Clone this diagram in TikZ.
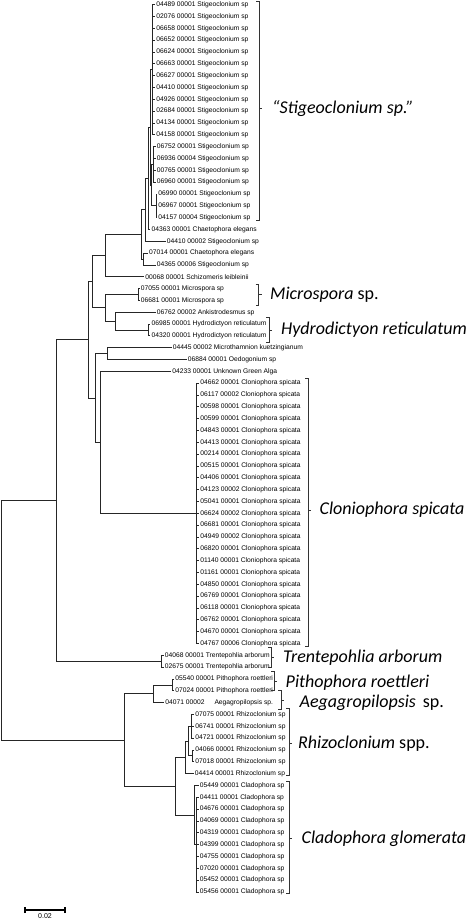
\documentclass[tikz,border=0pt]{standalone}
\usepackage{fontspec}
\setmainfont{Liberation Sans}
\newfontfamily\cladefont{Carlito}
\begin{document}
\begin{tikzpicture}[x=1pt,y=-1pt,
  br/.style={draw=black!85,line width=0.9pt},
  leaf/.style={font=\fontsize{6.7}{8}\selectfont,inner sep=1.2pt,anchor=west},
  brk/.style={draw=black!80,line width=0.7pt},
  clade/.style={font=\cladefont\fontsize{18}{20}\selectfont,inner sep=0pt,anchor=west}]
\useasboundingbox (0,0) rectangle (468,920);
% ---------- leaves ----------
\foreach \i/\x/\t in {
 1/155/{04489 00001 Stigeoclonium sp},
 2/155/{02076 00001 Stigeoclonium sp},
 3/155/{06658 00001 Stigeoclonium sp},
 4/155/{06652 00001 Stigeoclonium sp},
 5/155/{06624 00001 Stigeoclonium sp},
 6/155/{06663 00001 Stigeoclonium sp},
 7/155/{06627 00001 Stigeoclonium sp},
 8/155/{04410 00001 Stigeoclonium sp},
 9/155/{04926 00001 Stigeoclonium sp},
 10/155/{02684 00001 Stigeoclonium sp},
 11/155/{04134 00001 Stigeoclonium sp},
 12/155/{04158 00001 Stigeoclonium sp},
 13/155.5/{06752 00001 Stigeoclonium sp},
 14/155.5/{06936 00004 Stigeoclonium sp},
 15/155.5/{00765 00001 Stigeoclonium sp},
 16/155.5/{06960 00001 Stigeoclonium sp},
 17/157/{06990 00001 Stigeoclonium sp},
 18/157/{06967 00001 Stigeoclonium sp},
 19/157/{04157 00004 Stigeoclonium sp},
 20/150.3/{04363 00001 Chaetophora elegans},
 21/165.5/{04410 00002 Stigeoclonium sp},
 22/147.7/{07014 00001 Chaetophora elegans},
 23/155.5/{04365 00006 Stigeoclonium sp},
 24/144/{00068 00001 Schizomeris leibleinii},
 25/139.5/{07055 00001 Microspora sp},
 26/139.5/{06681 00001 Microspora sp},
 27/155.5/{06762 00002 Ankistrodesmus sp},
 28/150.3/{06985 00001 Hydrodictyon reticulatum},
 29/150.3/{04320 00001 Hydrodictyon reticulatum},
 30/171.5/{04445 00002 Microthamnion kuetzingianum},
 31/186.5/{06884 00001 Oedogonium sp},
 32/171/{04233 00001 Unknown Green Alga},
 33/199/{04662 00001 Cloniophora spicata},
 34/199/{06117 00002 Cloniophora spicata},
 35/199/{00598 00001 Cloniophora spicata},
 36/199/{00599 00001 Cloniophora spicata},
 37/199/{04843 00001 Cloniophora spicata},
 38/199/{04413 00001 Cloniophora spicata},
 39/199/{00214 00001 Cloniophora spicata},
 40/199/{00515 00001 Cloniophora spicata},
 41/199/{04406 00001 Cloniophora spicata},
 42/199/{04123 00002 Cloniophora spicata},
 43/199/{05041 00001 Cloniophora spicata},
 44/199/{06624 00002 Cloniophora spicata},
 45/199/{06681 00001 Cloniophora spicata},
 46/199/{04949 00002 Cloniophora spicata},
 47/199/{06820 00001 Cloniophora spicata},
 48/199/{01140 00001 Cloniophora spicata},
 49/199/{01161 00001 Cloniophora spicata},
 50/199/{04850 00001 Cloniophora spicata},
 51/199/{06769 00001 Cloniophora spicata},
 52/199/{06118 00001 Cloniophora spicata},
 53/199/{06762 00001 Cloniophora spicata},
 54/199/{04670 00001 Cloniophora spicata},
 55/199/{04767 00006 Cloniophora spicata},
 56/163.5/{04068 00001 Trentepohlia arborum},
 57/163.5/{02675 00001 Trentepohlia arborum},
 58/174/{05540 00001 Pithophora roettleri},
 59/174/{07024 00001 Pithophora roettleri},
 60/164/{04071 00002\hspace{10pt}Aegagropilopsis sp.},
 61/194/{07075 00001 Rhizoclonium sp},
 62/194/{06741 00001 Rhizoclonium sp},
 63/194/{04721 00001 Rhizoclonium sp},
 64/194/{04066 00001 Rhizoclonium sp},
 65/194/{07018 00001 Rhizoclonium sp},
 66/193.5/{04414 00001 Rhizoclonium sp},
 67/198.5/{05449 00001 Cladophora sp},
 68/198.5/{04411 00001 Cladophora sp},
 69/198.5/{04676 00001 Cladophora sp},
 70/198.5/{04069 00001 Cladophora sp},
 71/198.5/{04319 00001 Cladophora sp},
 72/198.5/{04399 00001 Cladophora sp},
 73/198.5/{04755 00001 Cladophora sp},
 74/198.5/{07020 00001 Cladophora sp},
 75/198.5/{05452 00001 Cladophora sp},
 76/198.5/{05456 00001 Cladophora sp}}{
  \coordinate (L\i) at (\x,{4.7+(\i-1)*11.83});
  \node[leaf] (T\i) at (L\i) {\t};
}
% ---------- internal nodes ----------
\coordinate (J1) at (152.5,69.75);
\coordinate (J2a) at (153.5,164.4);
\coordinate (J2b) at (156,205.8);
\coordinate (J2) at (151.5,185.1);
\coordinate (J) at (150.5,127.4);
\coordinate (I) at (148,178.5);
\coordinate (G) at (145.7,209.9);
\coordinate (H) at (143.3,259);
\coordinate (F) at (141.7,234.5);
\coordinate (D) at (105,255.6);
\coordinate (Mi) at (138.3,294.5);
\coordinate (Hy) at (148.3,330);
\coordinate (Y) at (115,321.2);
\coordinate (E) at (105.7,307.9);
\coordinate (C) at (92.7,281.7);
\coordinate (V) at (107.3,353.7);
\coordinate (X) at (196.5,513.4);
\coordinate (W) at (100,442.4);
\coordinate (U) at (95,398);
\coordinate (B) at (88.3,339.9);
\coordinate (Tr) at (161.7,661.3);
\coordinate (A) at (56.7,500.6);
\coordinate (N) at (172.7,685);
\coordinate (Lp) at (153.3,693.9);
\coordinate (R) at (191.7,726.4);
\coordinate (S) at (192.7,755.9);
\coordinate (Q) at (188,741.1);
\coordinate (O) at (185,757.4);
\coordinate (P2) at (196,844.4);
\coordinate (P) at (194,815);
\coordinate (M) at (175.7,786.2);
\coordinate (K) at (124.3,740);
\coordinate (Root) at (1,620.3);
% ---------- branches ----------
\foreach \i in {1,...,12} \draw[br] (J1) |- (L\i);
\foreach \i in {13,...,16} \draw[br] (J2a) |- (L\i);
\foreach \i in {17,...,19} \draw[br] (J2b) |- (L\i);
\foreach \i in {33,...,55} \draw[br] (X) |- (L\i);
\foreach \i in {61,...,63} \draw[br] (R) |- (L\i);
\foreach \i in {68,...,76} \draw[br] (P2) |- (L\i);
\foreach \p/\c in {J2/J2a, J2/J2b, J/J1, J/J2, I/J, I/L20, G/I, G/L21,
  H/L22, H/L23, F/G, F/H, D/F, D/L24, Mi/L25, Mi/L26, Hy/L28, Hy/L29,
  Y/L27, Y/Hy, E/Mi, E/Y, C/D, C/E, V/L30, V/L31, W/L32, W/X, U/V, U/W,
  B/C, B/U, Tr/L56, Tr/L57, A/B, A/Tr, N/L58, N/L59, Lp/N, Lp/L60,
  S/L64, S/L65, Q/R, Q/S, O/Q, O/L66, P/L67, P/P2, M/O, M/P,
  K/Lp, K/M, Root/A, Root/K}
  \draw[br] (\p) |- (\c);
% ---------- clade brackets ----------
\foreach \bx/\ya/\yb/\ym in {259/1.5/220.7/108.7, 258.5/284/305/294.5,
  269/317.7/342.7/330, 308.3/378.3/646/510, 271/647/667.3/657.3,
  274.3/671.7/690/681, 281/690.5/709.3/700, 289/708.3/775/743.3,
  289/781.7/893/838.3}{
  \draw[brk] (\bx-3,\ya) -- (\bx,\ya) -- (\bx,\yb) -- (\bx-3,\yb);
  \draw[brk] (\bx,\ym) -- (\bx+3,\ym);
}
\node[clade] (cStig) at (272,108.7) {\itshape “Stigeoclonium sp.”};
\node[clade] (cMicro) at (270,294.5) {\itshape Microspora\/\upshape{} sp.};
\node[clade] (cHydro) at (281,330) {\itshape Hydrodictyon reticulatum};
\node[clade] (cClon) at (319.5,510) {\itshape Cloniophora spicata};
\node[clade] (cTren) at (283,657.3) {\itshape Trentepohlia arborum};
\node[clade] (cPith) at (285.5,683) {\itshape Pithophora roettleri};
\node[clade] (cAeg) at (299.5,702.7) {\itshape Aegagropilopsis\/\upshape{}\hspace{7pt}sp.};
\node[clade] (cRhiz) at (298,743.3) {\itshape Rhizoclonium\/\upshape{} spp.};
\node[clade] (cClad) at (301.5,838.3) {\itshape Cladophora glomerata};
% ---------- scale bar ----------
\coordinate (sb1) at (25,910);
\coordinate (sb2) at (65,910);
\draw[line width=1.4pt] (sb1) -- (sb2);
\draw[line width=1.2pt] ([yshift=-3pt]sb1) -- ([yshift=3pt]sb1);
\draw[line width=1.2pt] ([yshift=-3pt]sb2) -- ([yshift=3pt]sb2);
\node[font=\fontsize{7}{8}\selectfont,inner sep=0pt] (sbl) at (45,916.5) {0.02};
\end{tikzpicture}
\end{document}
